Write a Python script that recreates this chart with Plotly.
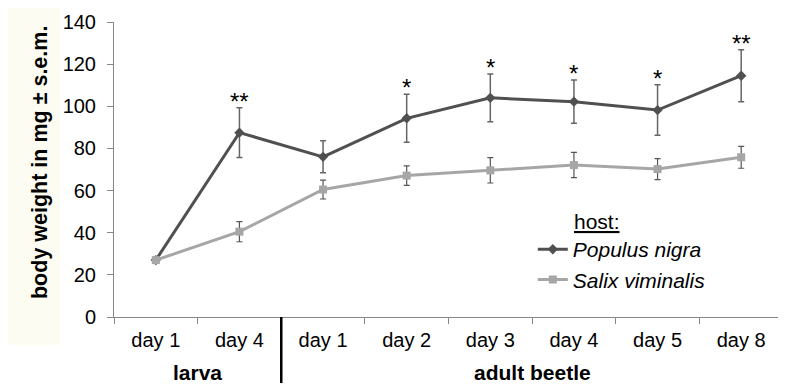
import plotly.graph_objects as go

# ---- data ----
day_labels = ["day 1", "day 4", "day 1", "day 2", "day 3", "day 4", "day 5", "day 8"]
stage_labels = ["larva", "adult beetle"]
stage_centers = [0.5, 4.5]
populus = [27, 87.5, 76, 94.3, 104, 102.2, 98.2, 114.5]
populus_se = [1, 11.8, 7.6, 11.4, 11.3, 10.3, 12, 12.3]
salix = [27, 40.5, 60.5, 67.1, 69.6, 72.1, 70.2, 75.8]
salix_se = [1, 4.8, 4.5, 4.6, 6, 6, 5, 5.2]
stars = ["", "**", "", "*", "*", "*", "*", "**"]
y_ticks = [0, 20, 40, 60, 80, 100, 120, 140]

x = list(range(len(day_labels)))
FONT = "Liberation Sans, Arial, sans-serif"
DARK = "#505050"
LIGHT = "#a6a6a6"

fig = go.Figure()
fig.add_trace(go.Scatter(
    x=x, y=populus, name="Populus nigra", mode="lines+markers",
    line=dict(color=DARK, width=3),
    marker=dict(symbol="diamond", size=8, color=DARK),
    error_y=dict(type="data", array=populus_se, visible=True, color="#666666", thickness=1.5, width=3),
))
fig.add_trace(go.Scatter(
    x=x, y=salix, name="Salix viminalis", mode="lines+markers",
    line=dict(color=LIGHT, width=3),
    marker=dict(symbol="square", size=8, color=LIGHT),
    error_y=dict(type="data", array=salix_se, visible=True, color="#555555", thickness=1.2, width=3),
))

# significance stars
for xi, yi, se, s in zip(x, populus, populus_se, stars):
    if s:
        fig.add_annotation(x=xi, y=yi + se, text=s, showarrow=False, xref="x", yref="y",
                           yanchor="bottom", yshift=-9,
                           font=dict(family=FONT, size=24, color="#000000"))

# group labels
for lab, cx in zip(stage_labels, stage_centers):
    fig.add_annotation(x=cx, y=-0.187, xref="x", yref="paper", text="<b>%s</b>" % lab,
                       showarrow=False, yanchor="middle",
                       font=dict(family=FONT, size=21, color="#000000"))

# y title
fig.add_annotation(x=-0.1106, y=0.522, xref="paper", yref="paper",
                   text="<b>body weight in mg ± s.e.m.</b>", textangle=-90,
                   showarrow=False, xanchor="center", yanchor="middle",
                   font=dict(family=FONT, size=21.5, color="#000000"))

# legend heading
fig.add_annotation(x=0.6846, y=0.325, xref="paper", yref="paper", text="<u>host:</u>",
                   showarrow=False, xanchor="left", yanchor="middle",
                   font=dict(family=FONT, size=21, color="#000000"))

# background strip on the left, and separator between groups
fig.add_shape(type="rect", xref="paper", yref="paper", x0=-0.19, x1=-0.0807, y0=-0.095, y1=1.1,
              fillcolor="#fcfcf3", line=dict(width=0), layer="below")
fig.add_shape(type="line", xref="paper", yref="paper", x0=0.25, x1=0.25, y0=0, y1=-0.224,
              line=dict(color="#000000", width=2.5))

# page body has an 8px margin: figure is offset by (8, 8) in the window
fig.update_layout(
    width=778, height=377,
    margin=dict(l=106, r=3, t=14, b=68),
    paper_bgcolor="white", plot_bgcolor="white",
    font=dict(family=FONT, size=20, color="#000000"),
    showlegend=True,
    legend=dict(
        x=0.626, y=0.298, xanchor="left", yanchor="top",
        bgcolor="rgba(0,0,0,0)",
        font=dict(family=FONT, size=21, color="#000000", style="italic"),
        itemwidth=30,
    ),
    xaxis=dict(
        range=[-0.5, 7.5], tickvals=x, ticktext=day_labels, ticks="",
        showline=True, linecolor="#868686", linewidth=1, showgrid=False, zeroline=False,
        tickfont=dict(family=FONT, size=20, color="#000000"),
        ticklabelstandoff=5,
        minor=dict(tickvals=[i - 0.5 for i in range(len(day_labels) + 1)], ticks="outside",
                   ticklen=6, tickcolor="#868686", showgrid=False),
        fixedrange=True,
    ),
    yaxis=dict(
        range=[0, 140], tickvals=y_ticks, ticks="outside", ticklen=6, tickcolor="#868686",
        showline=True, linecolor="#868686", linewidth=1, showgrid=False, zeroline=False,
        tickfont=dict(family=FONT, size=20, color="#000000"),
        ticklabelstandoff=7,
        fixedrange=True,
    ),
)

fig.write_html("out.html")
